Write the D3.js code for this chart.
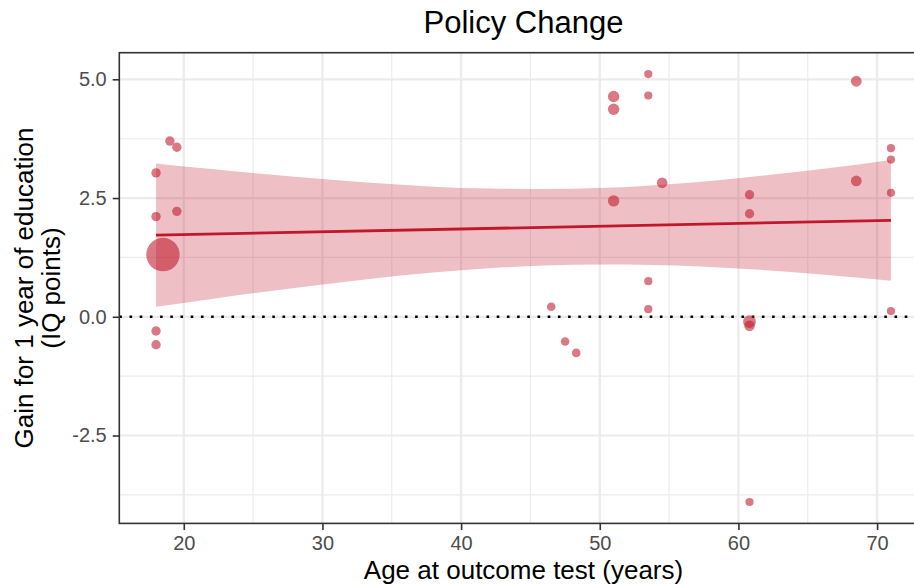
<!DOCTYPE html>
<html>
<head>
<meta charset="utf-8">
<script src="https://cdn.jsdelivr.net/npm/d3@7"></script>
<style>
  html, body { margin: 0; padding: 0; background: #fff; }
  svg { display: block; font-family: "Liberation Sans", Arial, sans-serif; }
</style>
</head>
<body>
<svg id="chart" width="914" height="584"></svg>
<script>
// Study estimates: age at outcome test, gain per year of education, study weight
const ages  = [18.0, 18.0, 18.0, 18.0, 18.5, 19.0, 19.5, 19.5,
               46.5, 47.5, 48.3, 51.0, 51.0, 51.0, 53.5, 53.5, 53.5, 53.5, 54.5,
               60.8, 60.8, 60.8, 60.8, 60.8, 68.5, 68.5, 71.0, 71.0, 71.0, 71.0];
const gains = [3.03, 2.11, -0.30, -0.59, 1.31, 3.70, 3.57, 2.22,
               0.21, -0.52, -0.76, 4.64, 4.37, 2.44, 5.11, 4.66, 0.75, 0.16, 2.82,
               2.57, 2.17, -0.10, -0.19, -3.90, 4.96, 2.86, 3.55, 3.31, 2.61, 0.12];
const weights = [79, 79, 79, 79, 1000, 79, 79, 79,
                 66, 66, 66, 117, 117, 117, 60, 60, 60, 60, 101,
                 79, 79, 147, 100, 60, 105, 105, 60, 60, 60, 60];

// Fitted meta-regression line and its 95% confidence band
const fitAges  = [18, 71];
const fitGains = [1.72, 2.03];
const bandAges = [18, 22, 26, 30, 34, 38, 42, 46, 50, 54, 58, 62, 66, 71];
const bandLow  = [0.21, 0.375, 0.534, 0.68, 0.816, 0.93, 1.02, 1.08, 1.10, 1.09, 1.05, 0.98, 0.89, 0.76];
const bandHigh = [3.23, 3.11, 3.00, 2.90, 2.81, 2.74, 2.70, 2.69, 2.71, 2.77, 2.86, 2.98, 3.11, 3.30];

const xTicks = [20, 30, 40, 50, 60, 70];
const xMinor = [15, 25, 35, 45, 55, 65];
const yTicks = [-2.5, 0, 2.5, 5];
const yMinor = [-3.75, -1.25, 1.25, 3.75];

const title  = "Policy Change";
const xTitle = "Age at outcome test (years)";
const yTitle = ["Gain for 1 year of education", "(IQ points)"];

const svg = d3.select("#chart");
const panel = { left: 119.3, right: 927.7, top: 52.7, bottom: 523.4 };

// Expanded ranges (5% on each side of the data)
const xExt = d3.extent(ages), yExt = d3.extent(gains);
const xPad = (xExt[1] - xExt[0]) * 0.05, yPad = (yExt[1] - yExt[0]) * 0.05;
const x = d3.scaleLinear().domain([xExt[0] - xPad, xExt[1] + xPad]).range([panel.left, panel.right]);
const y = d3.scaleLinear().domain([yExt[0] - yPad, yExt[1] + yPad]).range([panel.bottom, panel.top]);
const r = d3.scaleSqrt().domain([0, d3.max(weights)]).range([0, 16.7]);

const red = "#C0182A";

svg.append("clipPath").attr("id", "clip")
  .append("rect").attr("x", panel.left).attr("y", panel.top)
  .attr("width", panel.right - panel.left).attr("height", panel.bottom - panel.top);

const plot = svg.append("g").attr("clip-path", "url(#clip)");

// Grid
plot.selectAll(".xminor").data(xMinor).join("line")
  .attr("x1", d => x(d)).attr("x2", d => x(d))
  .attr("y1", panel.top).attr("y2", panel.bottom)
  .attr("stroke", "#EBEBEB").attr("stroke-width", 1.1);
plot.selectAll(".yminor").data(yMinor).join("line")
  .attr("y1", d => y(d)).attr("y2", d => y(d))
  .attr("x1", panel.left).attr("x2", panel.right)
  .attr("stroke", "#EBEBEB").attr("stroke-width", 1.1);
plot.selectAll(".xmajor").data(xTicks).join("line")
  .attr("x1", d => x(d)).attr("x2", d => x(d))
  .attr("y1", panel.top).attr("y2", panel.bottom)
  .attr("stroke", "#EBEBEB").attr("stroke-width", 2.2);
plot.selectAll(".ymajor").data(yTicks).join("line")
  .attr("y1", d => y(d)).attr("y2", d => y(d))
  .attr("x1", panel.left).attr("x2", panel.right)
  .attr("stroke", "#EBEBEB").attr("stroke-width", 2.2);

// Reference line at zero
plot.append("line")
  .attr("x1", panel.left).attr("x2", panel.right)
  .attr("y1", y(0)).attr("y2", y(0))
  .attr("stroke", "#000").attr("stroke-width", 2.6)
  .attr("stroke-dasharray", "2.6 7.6");

// Points
const pts = d3.range(ages.length).map(i => ({ a: ages[i], g: gains[i], w: weights[i] }));
plot.selectAll(".pt").data(pts).join("circle")
  .attr("cx", d => x(d.a)).attr("cy", d => y(d.g)).attr("r", d => r(d.w))
  .attr("fill", red).attr("fill-opacity", 0.58);

// Confidence band
const band = bandAges.map((a, i) => ({ a, lo: bandLow[i], hi: bandHigh[i] }));
plot.append("path").datum(band)
  .attr("d", d3.area().x(d => x(d.a)).y0(d => y(d.lo)).y1(d => y(d.hi)).curve(d3.curveMonotoneX))
  .attr("fill", red).attr("fill-opacity", 0.27);

// Fitted line
plot.append("path").datum(fitAges.map((a, i) => ({ a, g: fitGains[i] })))
  .attr("d", d3.line().x(d => x(d.a)).y(d => y(d.g)))
  .attr("fill", "none").attr("stroke", red).attr("stroke-width", 2.8);

// Panel border
svg.append("rect")
  .attr("x", panel.left).attr("y", panel.top)
  .attr("width", panel.right - panel.left).attr("height", panel.bottom - panel.top)
  .attr("fill", "none").attr("stroke", "#333333").attr("stroke-width", 1.6);

// Axes
const fmtY = d => d3.format(".1f")(d).replace("\u2212", "-");
const xAxis = svg.append("g").attr("transform", `translate(0,${panel.bottom})`)
  .call(d3.axisBottom(x).tickValues(xTicks).tickSize(6.6).tickPadding(5.5).tickFormat(d3.format("d")));
const yAxis = svg.append("g").attr("transform", `translate(${panel.left},0)`)
  .call(d3.axisLeft(y).tickValues(yTicks).tickSize(6.6).tickPadding(6).tickFormat(fmtY));
[xAxis, yAxis].forEach(g => {
  g.select(".domain").remove();
  g.selectAll(".tick line").attr("stroke", "#333333").attr("stroke-width", 1.6);
  g.selectAll(".tick text").attr("fill", "#4D4D4D").attr("font-size", 20)
    .attr("font-family", "Liberation Sans, Arial, sans-serif");
});

// Titles
svg.append("text").attr("x", (panel.left + panel.right) / 2).attr("y", 33)
  .attr("text-anchor", "middle").attr("font-size", 31).attr("fill", "#000").text(title);
svg.append("text").attr("x", (panel.left + panel.right) / 2).attr("y", 579)
  .attr("text-anchor", "middle").attr("font-size", 26).attr("fill", "#000").text(xTitle);
const yt = svg.append("text")
  .attr("transform", `translate(0,${(panel.top + panel.bottom) / 2}) rotate(-90)`)
  .attr("text-anchor", "middle").attr("font-size", 26).attr("fill", "#000");
yt.selectAll("tspan").data(yTitle).join("tspan")
  .attr("x", 0).attr("y", (d, i) => 33 + i * 27).text(d => d);
</script>
</body>
</html>
